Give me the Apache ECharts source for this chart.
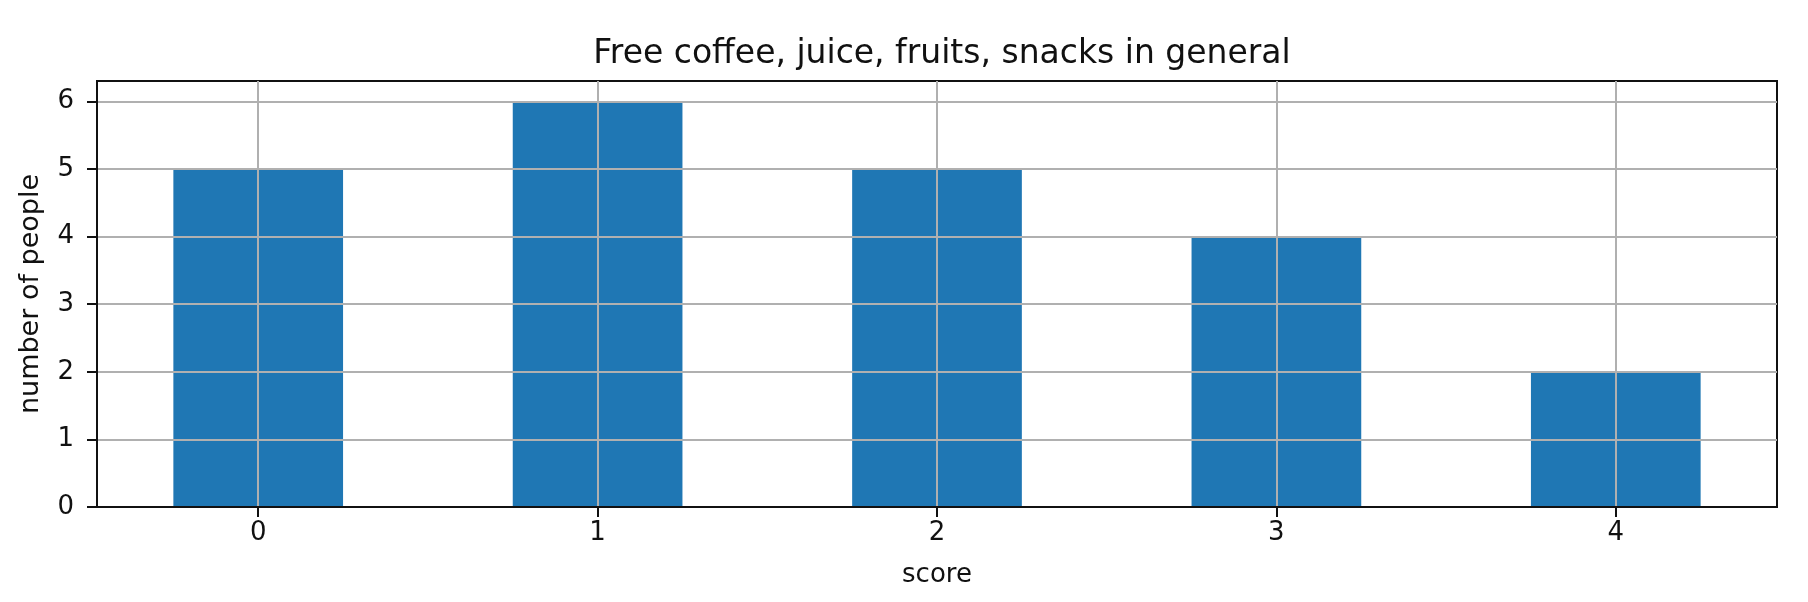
<!DOCTYPE html>
<html>
<head>
<meta charset="utf-8">
<script src="https://cdn.jsdelivr.net/npm/echarts@6/dist/echarts.min.js"></script>
<style>
html,body{margin:0;padding:0;background:#fff;}
#chart{width:1808px;height:602px;}
</style>
</head>
<body>
<div id="chart"></div>
<script>
const titleText = 'Free coffee, juice, fruits, snacks in general';
const xName = 'score';
const yName = 'number of people';
const scores = [0, 1, 2, 3, 4];
const counts = [5, 6, 5, 4, 2];
const xTicks = [0, 1, 2, 3, 4];
const yTicks = [0, 1, 2, 3, 4, 5, 6];

const FONT = 'DejaVu Sans';
const chart = echarts.init(document.getElementById('chart'), null, {renderer: 'canvas'});
chart.setOption({
  animation: false,
  backgroundColor: '#fff',
  title: {
    text: titleText,
    left: 937, textAlign: 'center',
    top: 33,
    textStyle: {fontFamily: FONT, fontSize: 33, fontWeight: 'normal', color: '#111'}
  },
  grid: {
    left: 97, right: 31, top: 81, bottom: 95,
    show: true, borderColor: '#111', borderWidth: 2, backgroundColor: 'transparent'
  },
  xAxis: {
    type: 'value', min: -0.475, max: 4.475, z: 5,
    name: xName, nameLocation: 'middle', nameGap: 55,
    nameTextStyle: {fontFamily: FONT, fontSize: 26, color: '#111'},
    axisLine: {show: true, onZero: false, lineStyle: {color: '#111', width: 2}},
    axisTick: {show: true, length: 10, customValues: xTicks, lineStyle: {color: '#111', width: 2}},
    axisLabel: {customValues: xTicks, margin: 13, fontFamily: FONT, fontSize: 26, color: '#111'},
    splitLine: {show: true, customValues: xTicks, lineStyle: {color: '#b0b0b0', width: 2}}
  },
  yAxis: {
    type: 'value', min: 0, max: 6.3, interval: 1, z: 5,
    name: yName, nameLocation: 'middle', nameGap: 53, nameRotate: 90,
    nameTextStyle: {fontFamily: FONT, fontSize: 27, color: '#111'},
    axisLine: {show: true, onZero: false, lineStyle: {color: '#111', width: 2}},
    axisTick: {show: true, length: 10, customValues: yTicks, lineStyle: {color: '#111', width: 2}},
    axisLabel: {customValues: yTicks, margin: 23, fontFamily: FONT, fontSize: 26, color: '#111'},
    splitLine: {show: true, lineStyle: {color: '#b0b0b0', width: 2}}
  },
  series: [{
    type: 'bar',
    data: scores.map((s, i) => [s, counts[i]]),
    barWidth: '50%',
    itemStyle: {color: '#1f77b4'},
    z: 2
  }]
});
</script>
</body>
</html>
